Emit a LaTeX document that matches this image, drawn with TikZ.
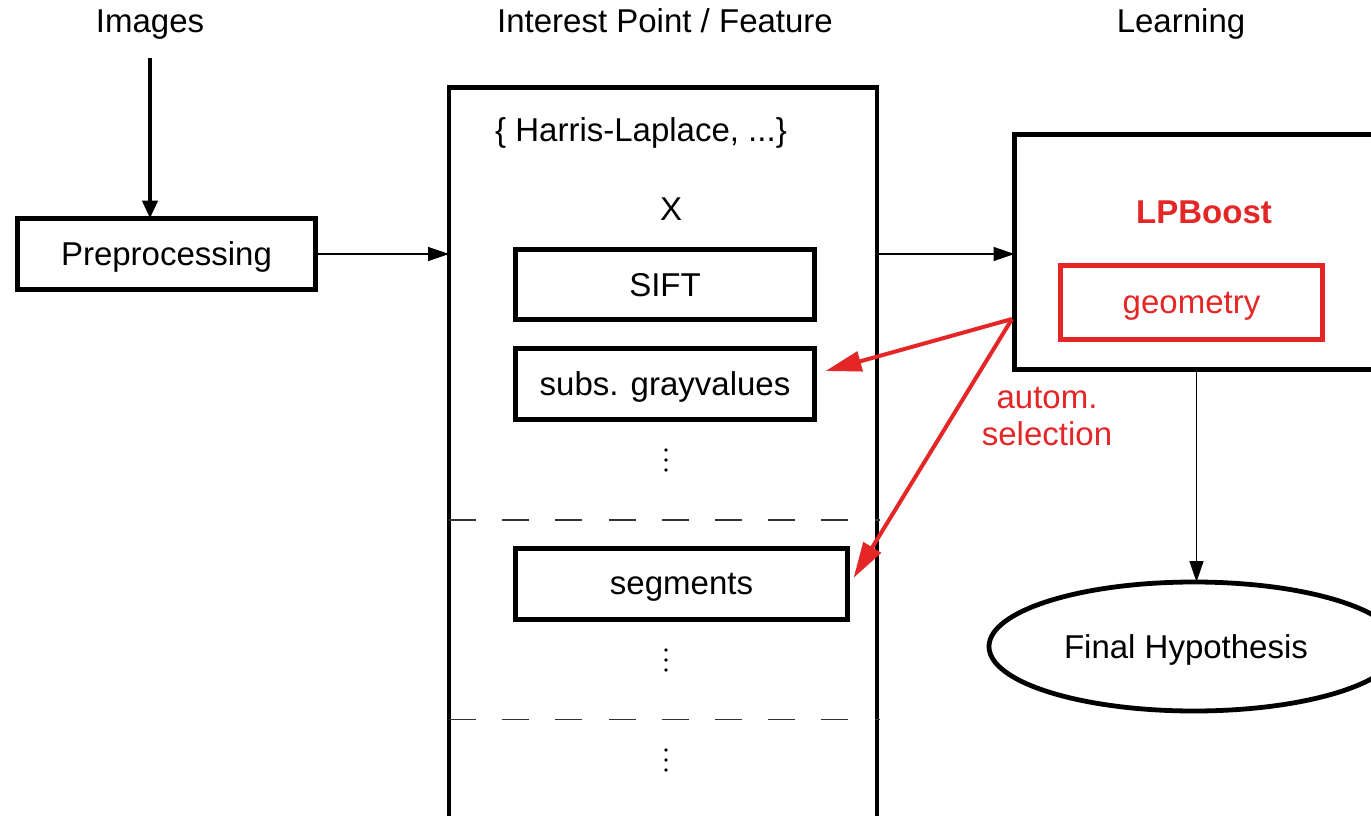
\documentclass[tikz,border=0pt]{standalone}
\usepackage{fontspec}
\setmainfont{Liberation Sans}
\usetikzlibrary{arrows.meta,shapes.geometric,calc}
\definecolor{selred}{RGB}{228,38,38}
\begin{document}
\begin{tikzpicture}[x=1pt,y=-1pt,
  every node/.style={font=\fontsize{33}{37}\selectfont, outer sep=0pt},
  box/.style={draw, line width=4.4pt, inner sep=0pt, text depth=0pt},
  txt/.style={anchor=base, inner sep=0pt},
  thinarrow/.style={line width=1.4pt, -{Triangle[length=21pt,width=14pt]}},
  thickarrow/.style={line width=4.3pt, -{Triangle[length=18pt,width=15pt]}},
  redarrow/.style={draw=selred, line width=4pt, -{Triangle[length=36pt,width=20pt]}},
  sepline/.style={line width=1.3pt, draw=black!80, dash pattern=on 27pt off 26.2pt},
  dotfill/.style={fill=black}
]
\useasboundingbox (0,0) rectangle (1371,816);
\clip (0,0) rectangle (1371,816);

% column titles
\node[txt] (imgs) at (150,33) {Images};
\node[txt] (ipf) at (665,33) {Interest Point / Feature};
\node[txt] (learn) at (1181,33) {Learning};

% preprocessing
\node[box, minimum width=298pt, minimum height=71pt] (pre) at (166.5,254) {Preprocessing};

% feature column
\node[box, minimum width=428pt, minimum height=800pt, anchor=north west] (feat) at (449,87.5) {};
\node[txt] (harris) at (641,141) {\{ Harris-Laplace, ...\}};
\node[txt] (cross) at (671,220) {X};
\node[box, minimum width=299pt, minimum height=70pt] (sift) at (665,284.5) {SIFT};
\node[box, minimum width=299pt, minimum height=71pt] (subs) at (665,384) {subs. grayvalues};
\node[box, minimum width=332pt, minimum height=71pt] (seg) at (681.5,584) {segments};

\coordinate (d1) at (666,460);
\coordinate (d2) at (666,660);
\coordinate (d3) at (666,760);
\foreach \c in {d1,d2,d3}{
  \fill[dotfill] ($(\c)+(0,-10)$) circle (1.8);
  \fill[dotfill] (\c) circle (1.8);
  \fill[dotfill] ($(\c)+(0,10)$) circle (1.8);
}

\coordinate (s1) at (449,520);
\coordinate (s2) at (449,719.5);
\draw[sepline] (s1) -- ($(s1 -| feat.east)+(3,0)$);
\draw[sepline] (s2) -- ($(s2 -| feat.east)+(3,0)$);

% learning
\node[box, minimum width=364pt, minimum height=235pt, anchor=north west] (lp) at (1014.5,134.5) {};
\node[txt, text=selred, font=\fontsize{33}{37}\selectfont\bfseries] (lpb) at (1204,223) {LPBoost};
\node[box, draw=selred, text=selred, minimum width=262pt, minimum height=74pt] (geom) at (1191.5,302.5) {geometry};
\node[align=center, text=selred, inner sep=0pt, font=\fontsize{33}{37}\selectfont] (autom) at (1047,416) {autom.\\selection};

% final hypothesis
\node[draw, ellipse, line width=4.8pt, inner sep=0pt, minimum width=410pt, minimum height=129pt, text depth=0pt] (hyp) at (1194,646.5) {Final Hypothesis\hspace*{16pt}};

% connectors
\draw[thickarrow] ($(imgs.south)+(0,18)$) -- (imgs.south |- pre.north);
\draw[thinarrow] (pre.east) -- (pre.east -| feat.west);
\draw[thinarrow] (feat.east |- pre.east) -- (lp.west |- pre.east);
\draw[thinarrow] (lp.south) -- (lp.south |- hyp.north);

\coordinate (rsrc) at (1012,319);
\draw[redarrow] (rsrc) -- ($(subs.east)+(11,-13)$);
\draw[redarrow] (rsrc) -- ($(seg.east)+(6,-6)$);
\end{tikzpicture}
\end{document}
